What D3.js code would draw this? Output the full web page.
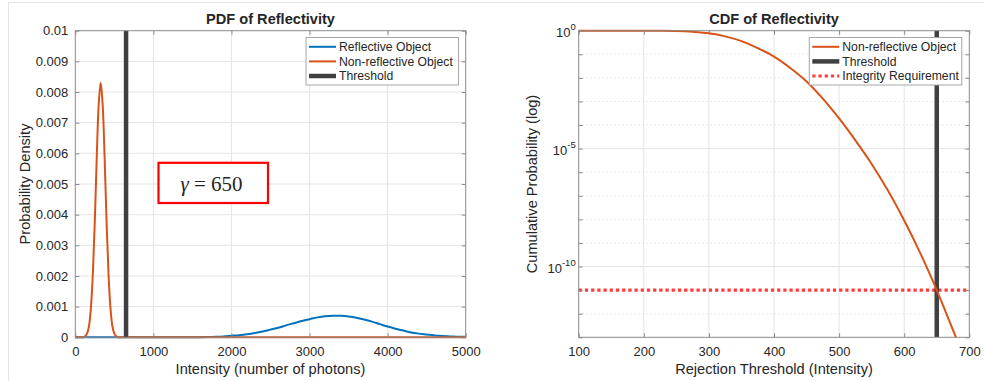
<!DOCTYPE html>
<html>
<head>
<meta charset="utf-8">
<script src="https://cdn.jsdelivr.net/npm/d3@7"></script>
<style>
  body { margin: 0; background: #fff; }
  svg text { font-family: "Liberation Sans", Arial, Helvetica, sans-serif; fill: #262626; }
</style>
</head>
<body>
<svg id="chart" width="984" height="381"></svg>
<script>
// ---- data ----
// PDF, reflective object (blue)
const reflX = [0, 1000, 1400, 1500, 1600, 1700, 1800, 1900, 2000, 2100, 2200, 2300, 2400, 2500, 2600, 2700, 2800, 2900,
  3000, 3100, 3200, 3300, 3400, 3500, 3600, 3700, 3800, 3900, 4000, 4100, 4200, 4300, 4400, 4500, 4600, 4700, 4800, 4900, 5000];
const reflY = [0, 0, 0.000001, 0.000002, 0.000004, 0.000008, 0.000016, 0.00003, 0.00005, 0.00007, 0.0001, 0.00014, 0.00019, 0.00025, 0.00031, 0.00039, 0.00046, 0.00053,
  0.00059, 0.00065, 0.00069, 0.000705, 0.0007, 0.00068, 0.00064, 0.00058, 0.00051, 0.00043, 0.00035, 0.00028, 0.00022, 0.00016, 0.00012, 0.00009, 0.00006, 0.00004, 0.00003, 0.00002, 0.000015];
// PDF, non-reflective object (orange)
const nonReflX = [0, 50, 100, 125, 150, 175, 200, 225, 250, 275, 300, 325, 350, 375, 400, 425, 450, 475, 500, 525, 550, 600, 1000, 2000, 3000, 4000, 5000];
const nonReflY = [0, 0, 0, 0.00003, 0.00012, 0.00036, 0.00097, 0.00208, 0.0038, 0.0059, 0.0076, 0.0083, 0.0076, 0.0059, 0.0038, 0.00208, 0.00097, 0.00036, 0.00012, 0.00003, 0, 0, 0, 0, 0, 0, 0];
// CDF tail of the non-reflective object (orange, log axis)
const cdfX = [100, 150, 200, 225, 250, 275, 300, 325, 350, 375, 400, 425, 450, 475, 500, 525, 550, 575, 600, 625, 650, 675, 690];
const cdfY = [1, 1, 0.998, 0.99, 0.964, 0.895, 0.776, 0.575, 0.363, 0.182, 0.0794, 0.0263, 0.00708, 0.00132, 1.9e-4, 2.24e-5, 2.24e-6, 1.66e-7, 8.9e-9, 3.55e-10, 1.0e-11, 2.0e-13, 2.0e-14];

const threshold = 650;
const integrityReq = 1e-11;
const gammaLabel = "650";

const pdfXTicks = [0, 1000, 2000, 3000, 4000, 5000];
const pdfYTicks = [0, 0.001, 0.002, 0.003, 0.004, 0.005, 0.006, 0.007, 0.008, 0.009, 0.01];
const cdfXTicks = [100, 200, 300, 400, 500, 600, 700];
const cdfYMajor = [1, 1e-5, 1e-10];
const cdfYMajorExp = ["0", "-5", "-10"];
const cdfYDecades = [1, 1e-1, 1e-2, 1e-3, 1e-4, 1e-5, 1e-6, 1e-7, 1e-8, 1e-9, 1e-10, 1e-11, 1e-12, 1e-13];

const pdfLegend = [
  {label: "Reflective Object", color: "#0072BD", width: 2},
  {label: "Non-reflective Object", color: "#D95319", width: 2},
  {label: "Threshold", color: "#404040", width: 4.5}
];
const cdfLegend = [
  {label: "Non-reflective Object", color: "#D95319", width: 2},
  {label: "Threshold", color: "#404040", width: 4.5},
  {label: "Integrity Requirement", color: "#ff3b3b", width: 3.2, dash: "3.2,3"}
];

const svg = d3.select("#chart");
const axisColor = "#8a8a8a";
const gridColor = "#e4e4e4";

// faint outer frame of the figure
svg.append("path")
  .attr("d", "M8.5,381 L8.5,2.5 L984,2.5")
  .attr("fill", "none")
  .attr("stroke", "#e6e6e6");

// ---- left panel: PDF ----
const L = {x0: 75.3, x1: 465.7, y0: 30.7, y1: 337.3};
const px = d3.scaleLinear().domain([0, 5000]).range([L.x0, L.x1]);
const py = d3.scaleLinear().domain([0, 0.01]).range([L.y1, L.y0]);

const gL = svg.append("g");

// grid
gL.selectAll(".gx").data(pdfXTicks.slice(1, -1)).enter().append("line")
  .attr("x1", d => px(d)).attr("x2", d => px(d))
  .attr("y1", L.y0).attr("y2", L.y1)
  .attr("stroke", gridColor);
gL.selectAll(".gy").data(pdfYTicks.slice(1, -1)).enter().append("line")
  .attr("y1", d => py(d)).attr("y2", d => py(d))
  .attr("x1", L.x0).attr("x2", L.x1)
  .attr("stroke", gridColor);

svg.append("clipPath").attr("id", "clipL").append("rect")
  .attr("x", L.x0 - 2).attr("y", L.y0 - 2)
  .attr("width", L.x1 - L.x0 + 4).attr("height", L.y1 - L.y0 + 4);

const pdfLine = d3.line().x(d => px(d[0])).y(d => py(d[1])).curve(d3.curveCatmullRom.alpha(0.5));
const plotL = gL.append("g").attr("clip-path", "url(#clipL)");

plotL.append("path")
  .datum(d3.zip(reflX, reflY))
  .attr("d", pdfLine)
  .attr("fill", "none").attr("stroke", "#0072BD").attr("stroke-width", 2);
plotL.append("path")
  .datum(d3.zip(nonReflX, nonReflY))
  .attr("d", pdfLine)
  .attr("fill", "none").attr("stroke", "#D95319").attr("stroke-width", 2);
plotL.append("line")
  .attr("x1", px(threshold)).attr("x2", px(threshold))
  .attr("y1", L.y0).attr("y2", L.y1)
  .attr("stroke", "#404040").attr("stroke-width", 4.5);

// axes
const xAxisL = d3.axisBottom(px).tickValues(pdfXTicks).tickSize(-4).tickSizeOuter(0).tickPadding(9.5).tickFormat(d => d);
const yAxisL = d3.axisLeft(py).tickValues(pdfYTicks).tickSize(-4).tickSizeOuter(0).tickPadding(7).tickFormat(d => d);
const xTopL = d3.axisTop(px).tickValues(pdfXTicks).tickSize(-4).tickSizeOuter(0).tickFormat("");
const yRightL = d3.axisRight(py).tickValues(pdfYTicks).tickSize(-4).tickSizeOuter(0).tickFormat("");

function styleAxis(g) {
  g.select(".domain").remove();
  g.selectAll(".tick line").attr("stroke", axisColor);
  g.selectAll(".tick text").style("font-size", "13px").attr("fill", "#262626");
}
gL.append("g").attr("transform", `translate(0,${L.y1})`).call(xAxisL).call(styleAxis);
gL.append("g").attr("transform", `translate(${L.x0},0)`).call(yAxisL).call(styleAxis);
gL.append("g").attr("transform", `translate(0,${L.y0})`).call(xTopL).call(styleAxis);
gL.append("g").attr("transform", `translate(${L.x1},0)`).call(yRightL).call(styleAxis);

gL.append("rect")
  .attr("x", L.x0).attr("y", L.y0)
  .attr("width", L.x1 - L.x0).attr("height", L.y1 - L.y0)
  .attr("fill", "none").attr("stroke", axisColor);

// titles
gL.append("text")
  .attr("x", (L.x0 + L.x1) / 2).attr("y", 24)
  .attr("text-anchor", "middle")
  .style("font-size", "14.6px").style("font-weight", "bold")
  .attr("fill", "#000")
  .text("PDF of Reflectivity");
gL.append("text")
  .attr("x", (L.x0 + L.x1) / 2).attr("y", 374)
  .attr("text-anchor", "middle")
  .style("font-size", "14.6px")
  .text("Intensity (number of photons)");
gL.append("text")
  .attr("transform", `translate(30,${(L.y0 + L.y1) / 2}) rotate(-90)`)
  .attr("text-anchor", "middle")
  .style("font-size", "14.6px")
  .text("Probability Density");

// gamma annotation
gL.append("rect")
  .attr("x", 158.5).attr("y", 162.8)
  .attr("width", 109.5).attr("height", 40.2)
  .attr("fill", "#fff").attr("stroke", "#ff0000").attr("stroke-width", 2.2);
const gt = gL.append("text")
  .attr("x", 211.5).attr("y", 190.5)
  .attr("text-anchor", "middle")
  .style("font-family", "'Liberation Serif', 'DejaVu Serif', serif")
  .style("font-size", "21px")
  .attr("fill", "#000");
gt.append("tspan").style("font-style", "italic").text("γ");
gt.append("tspan").text(" = " + gammaLabel);

// ---- right panel: CDF ----
const R = {x0: 578.7, x1: 969.3, y0: 30.7, y1: 337.3};
const cx = d3.scaleLinear().domain([100, 700]).range([R.x0, R.x1]);
const cy = d3.scaleLog().domain([1e-13, 1]).range([R.y1, R.y0]);

const gR = svg.append("g");

gR.selectAll(".gx").data(cdfXTicks.slice(1, -1)).enter().append("line")
  .attr("x1", d => cx(d)).attr("x2", d => cx(d))
  .attr("y1", R.y0).attr("y2", R.y1)
  .attr("stroke", gridColor);
gR.selectAll(".gminor").data(cdfYDecades.filter(d => !cdfYMajor.includes(d) && d > 1e-13)).enter().append("line")
  .attr("y1", d => cy(d)).attr("y2", d => cy(d))
  .attr("x1", R.x0).attr("x2", R.x1)
  .attr("stroke", "#d6d6d6").attr("stroke-dasharray", "1,3");
gR.selectAll(".gmajor").data(cdfYMajor.slice(1)).enter().append("line")
  .attr("y1", d => cy(d)).attr("y2", d => cy(d))
  .attr("x1", R.x0).attr("x2", R.x1)
  .attr("stroke", gridColor);

svg.append("clipPath").attr("id", "clipR").append("rect")
  .attr("x", R.x0 - 2).attr("y", R.y0 - 2)
  .attr("width", R.x1 - R.x0 + 4).attr("height", R.y1 - R.y0 + 2);
const plotR = gR.append("g").attr("clip-path", "url(#clipR)");

plotR.append("line")
  .attr("x1", R.x0).attr("x2", R.x1)
  .attr("y1", cy(integrityReq)).attr("y2", cy(integrityReq))
  .attr("stroke", "#ff3b3b").attr("stroke-width", 3.2).attr("stroke-dasharray", "3.2,3");
plotR.append("line")
  .attr("x1", cx(threshold)).attr("x2", cx(threshold))
  .attr("y1", R.y0).attr("y2", R.y1)
  .attr("stroke", "#404040").attr("stroke-width", 4.5);
plotR.append("path")
  .datum(d3.zip(cdfX, cdfY))
  .attr("d", d3.line().x(d => cx(d[0])).y(d => cy(d[1])).curve(d3.curveCatmullRom.alpha(0.5)))
  .attr("fill", "none").attr("stroke", "#D95319").attr("stroke-width", 2);

const xAxisR = d3.axisBottom(cx).tickValues(cdfXTicks).tickSize(-4).tickSizeOuter(0).tickPadding(9.5).tickFormat(d => d);
const yAxisR = d3.axisLeft(cy).tickValues(cdfYDecades).tickSize(-4).tickSizeOuter(0).tickFormat("");
const xTopR = d3.axisTop(cx).tickValues(cdfXTicks).tickSize(-4).tickSizeOuter(0).tickFormat("");
const yRightR = d3.axisRight(cy).tickValues(cdfYDecades).tickSize(-4).tickSizeOuter(0).tickFormat("");
gR.append("g").attr("transform", `translate(0,${R.y1})`).call(xAxisR).call(styleAxis);
gR.append("g").attr("transform", `translate(${R.x0},0)`).call(yAxisR).call(styleAxis);
gR.append("g").attr("transform", `translate(0,${R.y0})`).call(xTopR).call(styleAxis);
gR.append("g").attr("transform", `translate(${R.x1},0)`).call(yRightR).call(styleAxis);

// log tick labels 10^n
cdfYMajor.forEach((v, i) => {
  const t = gR.append("text")
    .attr("x", R.x0 - 3).attr("y", cy(v) + 6.5)
    .attr("text-anchor", "end")
    .style("font-size", "13px");
  t.append("tspan").text("10");
  t.append("tspan").attr("dy", -6.8).style("font-size", "9.5px").text(cdfYMajorExp[i]);
});

gR.append("rect")
  .attr("x", R.x0).attr("y", R.y0)
  .attr("width", R.x1 - R.x0).attr("height", R.y1 - R.y0)
  .attr("fill", "none").attr("stroke", axisColor);

gR.append("text")
  .attr("x", (R.x0 + R.x1) / 2).attr("y", 24)
  .attr("text-anchor", "middle")
  .style("font-size", "14.6px").style("font-weight", "bold")
  .attr("fill", "#000")
  .text("CDF of Reflectivity");
gR.append("text")
  .attr("x", (R.x0 + R.x1) / 2).attr("y", 374)
  .attr("text-anchor", "middle")
  .style("font-size", "14.6px")
  .text("Rejection Threshold (Intensity)");
gR.append("text")
  .attr("transform", `translate(537,${(R.y0 + R.y1) / 2}) rotate(-90)`)
  .attr("text-anchor", "middle")
  .style("font-size", "14.6px")
  .text("Cumulative Probability (log)");

// ---- legends ----
function drawLegend(x, y, entries) {
  const g = svg.append("g").attr("transform", `translate(${x},${y})`);
  g.append("rect")
    .attr("x", 0.5).attr("y", 0.5)
    .attr("width", 152.5).attr("height", 47.5)
    .attr("fill", "#fff").attr("stroke", "#a6a6a6");
  entries.forEach((e, i) => {
    const ry = 9.8 + i * 14.6;
    g.append("line")
      .attr("x1", 3.5).attr("x2", 30.5)
      .attr("y1", ry).attr("y2", ry)
      .attr("stroke", e.color).attr("stroke-width", e.width)
      .attr("stroke-dasharray", e.dash || null);
    g.append("text")
      .attr("x", 33.5).attr("y", ry + 4.3)
      .style("font-size", "12.2px")
      .text(e.label);
  });
}
drawLegend(305.5, 37, pdfLegend);
drawLegend(808.8, 37, cdfLegend);
</script>
</body>
</html>
